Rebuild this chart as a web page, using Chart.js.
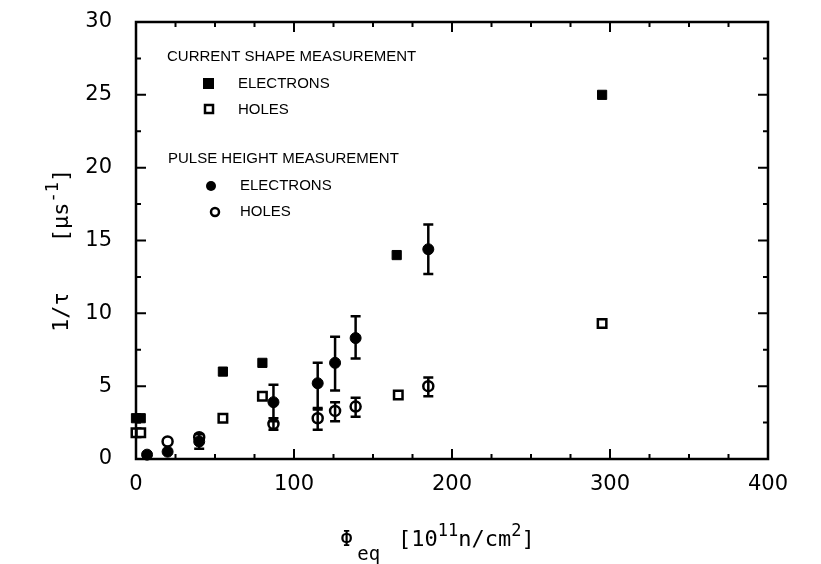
<!DOCTYPE html>
<html>
<head>
<meta charset="utf-8">
<script src="https://cdn.jsdelivr.net/npm/chart.js@4.4.1/dist/chart.umd.min.js"></script>
<style>
  body { margin: 0; background: #fff; }
  #wrap { width: 821px; height: 564px; }
</style>
</head>
<body>
<div id="wrap"><canvas id="c" width="821" height="564"></canvas></div>
<script>
// current shape measurement
const csElecX = [0, 3, 55, 80, 165, 295];
const csElecY = [2.8, 2.8, 6.0, 6.6, 14.0, 25.0];
const csHoleX = [0, 3, 55, 80, 166, 295];
const csHoleY = [1.8, 1.8, 2.8, 4.3, 4.4, 9.3];

// pulse height measurement (null = no error bar)
const phElecX = [7, 20, 40, 87, 115, 126, 139, 185];
const phElecY = [0.3, 0.5, 1.2, 3.9, 5.2, 6.6, 8.3, 14.4];
const phElecLo = [null, null, 0.7, 2.6, 3.4, 4.7, 6.9, 12.7];
const phElecHi = [null, null, 1.7, 5.1, 6.6, 8.4, 9.8, 16.1];
const phHoleX = [20, 40, 87, 115, 126, 139, 185];
const phHoleY = [1.2, 1.5, 2.4, 2.8, 3.3, 3.6, 5.0];
const phHoleLo = [null, null, 2.0, 2.0, 2.6, 2.9, 4.3];
const phHoleHi = [null, null, 2.8, 3.5, 3.9, 4.2, 5.6];

const xTicks = [0, 100, 200, 300, 400];
const yTicks = [0, 5, 10, 15, 20, 25, 30];

const pts = (xs, ys) => xs.map((x, i) => ({ x: x, y: ys[i] }));

const ink = '#000';
const mono = '"DejaVu Sans Mono", monospace';

// draws runs of text [string, size, baselineShift, gapAfter] one after another
function drawRuns(ctx, x, y, runs) {
    runs.forEach(r => {
        ctx.font = r[1] + 'px ' + mono;
        ctx.fillText(r[0], x, y + r[2]);
        x += ctx.measureText(r[0]).width + (r[3] || 0);
    });
}

const errorBars = {
    id: 'errorBars',
    afterDatasetsDraw(chart) {
        const ctx = chart.ctx;
        const xs = chart.scales.x, ys = chart.scales.y;
        const draw = (xArr, lo, hi) => {
            xArr.forEach((x, i) => {
                if (lo[i] == null) return;
                const px = xs.getPixelForValue(x);
                const p1 = ys.getPixelForValue(lo[i]);
                const p2 = ys.getPixelForValue(hi[i]);
                ctx.beginPath();
                ctx.moveTo(px, p1); ctx.lineTo(px, p2);
                ctx.moveTo(px - 5, p1); ctx.lineTo(px + 5, p1);
                ctx.moveTo(px - 5, p2); ctx.lineTo(px + 5, p2);
                ctx.stroke();
            });
        };
        ctx.save();
        ctx.strokeStyle = ink;
        ctx.lineWidth = 2.5;
        draw(phElecX, phElecLo, phElecHi);
        draw(phHoleX, phHoleLo, phHoleHi);
        ctx.restore();
    }
};

const frame = {
    id: 'frame',
    afterDraw(chart) {
        const ctx = chart.ctx;
        const a = chart.chartArea;
        const xs = chart.scales.x, ys = chart.scales.y;
        ctx.save();
        ctx.strokeStyle = ink;
        ctx.lineWidth = 2.5;
        ctx.strokeRect(a.left, a.top, a.right - a.left, a.bottom - a.top);
        ctx.lineWidth = 2;
        ctx.beginPath();
        for (let v = 0; v <= 400; v += 25) {
            const px = xs.getPixelForValue(v);
            const len = v % 100 === 0 ? 10 : 5;
            ctx.moveTo(px, a.bottom); ctx.lineTo(px, a.bottom - len);
            ctx.moveTo(px, a.top); ctx.lineTo(px, a.top + len);
        }
        for (let v = 0; v <= 30; v += 2.5) {
            const py = ys.getPixelForValue(v);
            const len = v % 5 === 0 ? 10 : 5;
            ctx.moveTo(a.left, py); ctx.lineTo(a.left + len, py);
            ctx.moveTo(a.right, py); ctx.lineTo(a.right - len, py);
        }
        ctx.stroke();

        // legend
        ctx.fillStyle = ink;
        ctx.textBaseline = 'middle';
        ctx.textAlign = 'left';
        ctx.font = '15px "Liberation Sans", sans-serif';
        ctx.fillText('CURRENT SHAPE MEASUREMENT', 167, 57);
        ctx.fillText('ELECTRONS', 238, 84);
        ctx.fillText('HOLES', 238, 110);
        ctx.fillText('PULSE HEIGHT MEASUREMENT', 168, 159);
        ctx.fillText('ELECTRONS', 240, 186);
        ctx.fillText('HOLES', 240, 212);
        ctx.lineWidth = 2.5;
        ctx.fillRect(203, 78, 11, 11);
        ctx.strokeRect(205, 105, 8, 8);
        ctx.beginPath(); ctx.arc(211, 186, 5, 0, Math.PI * 2); ctx.fill();
        ctx.beginPath(); ctx.arc(215, 212, 4, 0, Math.PI * 2); ctx.stroke();

        // axis titles
        ctx.textBaseline = 'alphabetic';
        ctx.save();
        ctx.translate(68, 332);
        ctx.rotate(-Math.PI / 2);
        drawRuns(ctx, 0, 0, [['1/\u03c4', 22, 0, 50], ['[\u03bcs', 22, 0], ['-1', 17, -10], [']', 22, 0]]);
        ctx.restore();

        drawRuns(ctx, 340, 546, [['\u03a6', 22, 0, 4], ['eq', 19, 14, 18],
            ['[10', 22, 0], ['11', 17, -10], ['n/cm', 22, 0], ['2', 17, -10], [']', 22, 0]]);
        ctx.restore();
    }
};

new Chart(document.getElementById('c').getContext('2d'), {
    type: 'scatter',
    data: {
        datasets: [
            { label: 'CS electrons', data: pts(csElecX, csElecY), pointStyle: 'rect',
              pointRadius: 6.5, backgroundColor: ink, borderColor: ink, borderWidth: 1 },
            { label: 'CS holes', data: pts(csHoleX, csHoleY), pointStyle: 'rect',
              pointRadius: 6, backgroundColor: '#fff', borderColor: ink, borderWidth: 2.5 },
            { label: 'PH electrons', data: pts(phElecX, phElecY), pointStyle: 'circle',
              pointRadius: 5.5, backgroundColor: ink, borderColor: ink, borderWidth: 1 },
            { label: 'PH holes', data: pts(phHoleX, phHoleY), pointStyle: 'circle',
              pointRadius: 5, backgroundColor: '#fff', borderColor: ink, borderWidth: 2.5 }
        ]
    },
    options: {
        responsive: false,
        animation: false,
        clip: false,
        layout: { padding: { top: 22, right: 53, left: 0, bottom: 0 } },
        plugins: { legend: { display: false }, tooltip: { enabled: false } },
        scales: {
            x: {
                type: 'linear', min: 0, max: 400,
                afterBuildTicks: s => { s.ticks = xTicks.map(v => ({ value: v })); },
                afterFit: s => { s.height = 105; s.paddingLeft = 0; s.paddingRight = 0; },
                grid: { display: false },
                border: { display: false },
                ticks: { color: ink, padding: 5, font: { family: '"DejaVu Sans"', size: 21 } }
            },
            y: {
                type: 'linear', min: 0, max: 30,
                afterBuildTicks: s => { s.ticks = yTicks.map(v => ({ value: v })); },
                afterFit: s => { s.width = 136; s.paddingTop = 0; s.paddingBottom = 0; },
                grid: { display: false },
                border: { display: false },
                ticks: { color: ink, padding: 16, font: { family: '"DejaVu Sans"', size: 21 } }
            }
        }
    },
    plugins: [errorBars, frame]
});
</script>
</body>
</html>
